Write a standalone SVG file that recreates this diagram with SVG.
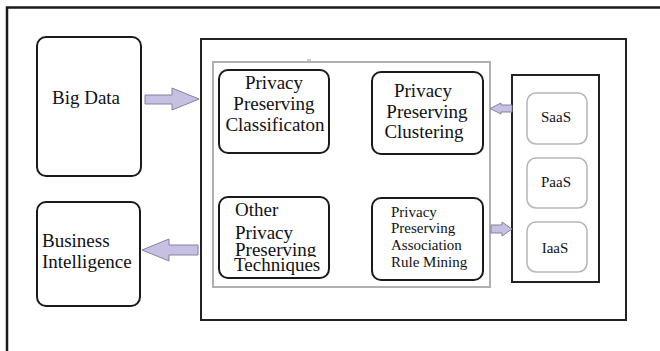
<svg xmlns="http://www.w3.org/2000/svg" width="660" height="351" viewBox="0 0 660 351">
  <style>
    .node { fill: #fff; stroke: #1a1a1a; stroke-width: 2; }
    .soft { fill: #fff; stroke: #b5b5b5; stroke-width: 1.5; }
    .frame { fill: none; stroke: #1a1a1a; stroke-width: 2.5; }
    .panel { fill: #fff; stroke: #222; stroke-width: 2; }
    .inner { fill: #fff; stroke: #b0b0b0; stroke-width: 2; }
    .arrow { fill: #c7c0e3; stroke: #85819f; stroke-width: 1; }
    .big { font-size: 19px; fill: #111; }
    .mid { font-size: 15px; fill: #111; }
  </style>
  <defs>
    <clipPath id="clip-line">
      <rect x="220" y="240" width="108" height="17"/>
    </clipPath>
  </defs>

  <rect width="660" height="351" fill="#fff"/>

  <!-- page frame: top and left edges only -->
  <path class="frame" d="M7,351 V7.5 H660"/>

  <g font-family="'Liberation Serif', 'Times New Roman', serif">
  <!-- main processing panel -->
  <g id="processing-panel">
    <rect class="panel" x="201" y="39" width="425" height="281"/>
    <rect class="inner" x="213" y="62" width="277" height="225"/>
    <line x1="307" y1="60" x2="311" y2="60" stroke="#999" stroke-width="1"/>
  </g>

  <g id="big-data">
    <rect class="node" x="37" y="37" width="104" height="139" rx="9"/>
    <text class="big" x="86" y="104" text-anchor="middle">Big Data</text>
  </g>

  <g id="business-intelligence">
    <rect class="node" x="37" y="202" width="103" height="104" rx="9"/>
    <text class="big" x="42" y="247">Business</text>
    <text class="big" x="42" y="268">Intelligence</text>
  </g>

  <g id="ppc-classification">
    <rect class="node" x="219" y="70" width="110" height="83" rx="9"/>
    <text class="big" x="274" y="89" text-anchor="middle">Privacy</text>
    <text class="big" x="274" y="110" text-anchor="middle">Preserving</text>
    <text class="big" x="275" y="131" text-anchor="middle">Classificaton</text>
  </g>

  <g id="ppc-clustering">
    <rect class="node" x="372" y="72" width="111" height="82" rx="9"/>
    <text class="big" x="423" y="97" text-anchor="middle">Privacy</text>
    <text class="big" x="427" y="118" text-anchor="middle">Preserving</text>
    <text class="big" x="424" y="138" text-anchor="middle">Clustering</text>
  </g>

  <g id="other-techniques">
    <rect class="node" x="219" y="197" width="110" height="81" rx="9"/>
    <text class="big" x="235" y="216">Other</text>
    <text class="big" x="235" y="239">Privacy</text>
    <text class="big" x="235" y="256" clip-path="url(#clip-line)">Preserving</text>
    <text class="big" x="234" y="271">Techniques</text>
  </g>

  <g id="ppc-association">
    <rect class="node" x="372" y="198" width="111" height="82" rx="9"/>
    <text class="mid" x="391" y="217">Privacy</text>
    <text class="mid" x="391" y="233">Preserving</text>
    <text class="mid" x="391" y="250">Association</text>
    <text class="mid" x="391" y="267">Rule Mining</text>
  </g>

  <g id="cloud-services">
    <rect class="panel" x="512" y="75" width="87" height="207"/>
    <g id="saas">
      <rect class="soft" x="527" y="93" width="60" height="51" rx="9"/>
      <text class="mid" x="556" y="122" text-anchor="middle">SaaS</text>
    </g>
    <g id="paas">
      <rect class="soft" x="527" y="158" width="60" height="50" rx="9"/>
      <text class="mid" x="556" y="187" text-anchor="middle">PaaS</text>
    </g>
    <g id="iaas">
      <rect class="soft" x="527" y="222" width="60" height="50" rx="9"/>
      <text class="mid" x="555" y="253" text-anchor="middle">IaaS</text>
    </g>
  </g>
  </g>

  <!-- block arrows between stages -->
  <g id="connectors">
    <path class="arrow" d="M145,95 H172 V88 L199,99 L172,110 V104 H145 Z"/>
    <path class="arrow" d="M198,245 H169 V239 L142,250 L169,261 V255 H198 Z"/>
    <path class="arrow" d="M512,105 H501 V103 L490,108.5 L501,114 V112 H512 Z"/>
    <path class="arrow" d="M491,225 H502 V222 L512,229 L502,236 V233 H491 Z"/>
  </g>
</svg>
